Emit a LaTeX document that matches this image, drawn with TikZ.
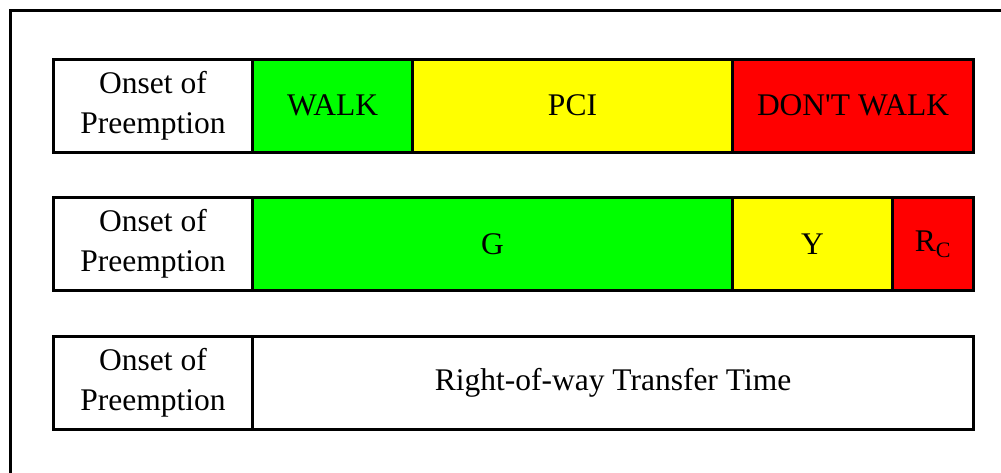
\documentclass[tikz,border=0pt]{standalone}
\usepackage{fontspec}
\setmainfont{Liberation Serif}[Ligatures=TeXOff]
\definecolor{sigGreen}{RGB}{0,255,0}
\definecolor{sigYellow}{RGB}{255,255,0}
\definecolor{sigRed}{RGB}{255,0,0}
\begin{document}
\begin{tikzpicture}[x=1pt,y=-1pt,
  cell/.style={draw=black, line width=3pt, anchor=north west, inner sep=0pt,
    minimum height=93pt, align=center,
    font=\fontsize{31.5}{40}\selectfont},
  frame/.style={draw=black, line width=3pt}]
\useasboundingbox (0,0) rectangle (1001,472);
\clip (0,0) rectangle (1001,472);
% outer frame, running past the right and bottom edges
\draw[frame] (10,520) -- (10,10) -- (1050,10);

% pedestrian phases
\node[cell, minimum width=199pt] (p0) at (52,57.5) {Onset of\\Preemption};
\node[cell, fill=sigGreen, minimum width=160pt] (p1) at (251,57.5) {WALK};
\node[cell, fill=sigYellow, minimum width=320pt] (p2) at (411,57.5) {PCI};
\node[cell, fill=sigRed, minimum width=241pt] (p3) at (731,57.5) {DON'T WALK};

% vehicle phases
\node[cell, minimum width=199pt] (v0) at (52,196) {Onset of\\Preemption};
\node[cell, fill=sigGreen, minimum width=480pt] (v1) at (251,196) {G};
\node[cell, fill=sigYellow, minimum width=160pt] (v2) at (731,196) {Y};
\node[cell, fill=sigRed, minimum width=81pt] (v3) at (891,196) {R\textsubscript{C}};

% right-of-way transfer
\node[cell, minimum width=199pt] (t0) at (52,335) {Onset of\\Preemption};
\node[cell, minimum width=721pt] (t1) at (251,335) {Right-of-way Transfer Time};
\end{tikzpicture}
\end{document}
